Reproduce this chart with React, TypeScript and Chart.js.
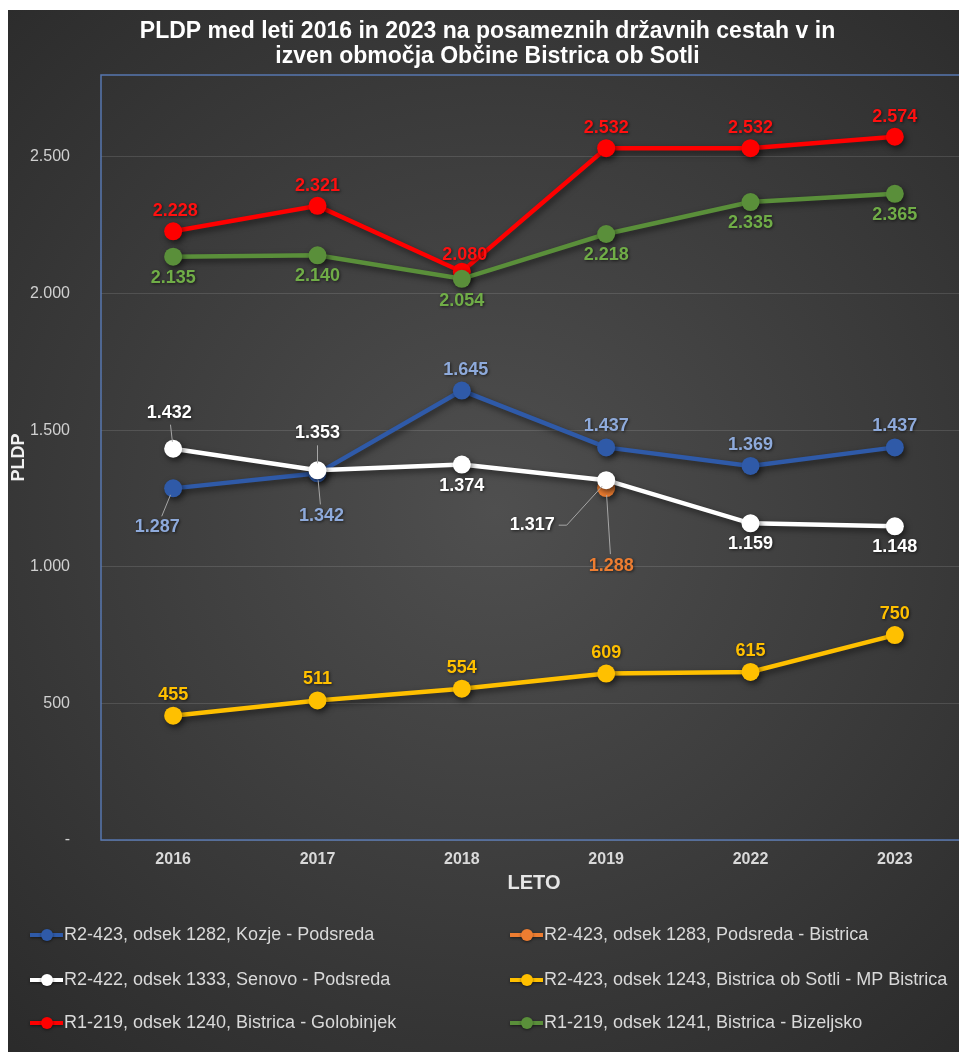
import React, { useEffect, useRef } from "react";
import { Chart, registerables } from "chart.js";

Chart.register(...registerables);

// ---------- DATA ----------
const years = ["2016", "2017", "2018", "2019", "2022", "2023"];
const seriesNames = [
  "R2-423, odsek 1282, Kozje - Podsreda",
  "R2-423, odsek 1283, Podsreda - Bistrica",
  "R2-422, odsek 1333, Senovo - Podsreda",
  "R2-423, odsek 1243, Bistrica ob Sotli - MP Bistrica",
  "R1-219, odsek 1240, Bistrica - Golobinjek",
  "R1-219, odsek 1241, Bistrica - Bizeljsko",
];
const kozjePodsreda = [1287, 1342, 1645, 1437, 1369, 1437];
const podsredaBistrica = [null, null, null, 1288, null, null];
const senovoPodsreda = [1432, 1353, 1374, 1317, 1159, 1148];
const bistricaMpBistrica = [455, 511, 554, 609, 615, 750];
const bistricaGolobinjek = [2228, 2321, 2080, 2532, 2532, 2574];
const bistricaBizeljsko = [2135, 2140, 2054, 2218, 2335, 2365];
const yTickValues = [0, 500, 1000, 1500, 2000, 2500];
const yMax = 2800;

const titleLines = [
  "PLDP med leti 2016 in 2023 na posameznih državnih cestah v in",
  "izven območja Občine Bistrica ob Sotli",
];
const xTitle = "LETO";
const yTitle = "PLDP";

// ---------- STYLE ----------
const FONT = "'Liberation Sans', Arial, sans-serif";
const lineColors = ["#2f5aa8", "#ed7d31", "#ffffff", "#ffc000", "#ff0000", "#5a8f3a"];
const labelColors = ["#8eaadb", "#ed7d31", "#ffffff", "#ffc000", "#ff1010", "#70ad47"];

type LP = { dx: number; dy: number; leader?: boolean; elbow?: boolean };
const A: LP = { dx: 0, dy: -21 };
const B: LP = { dx: 0, dy: 21 };
const labelPlacement: LP[][] = [
  [{ dx: -16, dy: 39, leader: true }, { dx: 4, dy: 43, leader: true }, { dx: 4, dy: -21 }, A, A, A],
  [B, B, B, { dx: 5, dy: 78, leader: true }, B, B],
  [{ dx: -4, dy: -36, leader: true }, { dx: 0, dy: -37, leader: true }, B, { dx: -74, dy: 45, leader: true, elbow: true }, B, B],
  [A, A, A, A, A, A],
  [{ dx: 2, dy: -20 }, { dx: 0, dy: -20 }, { dx: 3, dy: -17 }, { dx: 0, dy: -20 }, { dx: 0, dy: -20 }, { dx: 0, dy: -20 }],
  [B, B, { dx: 0, dy: 22 }, B, B, B],
];

function fmt(v: number): string {
  if (v === 0) return "-";
  if (v >= 1000) {
    const th = Math.floor(v / 1000);
    return th + "." + String(v % 1000).padStart(3, "0");
  }
  return String(v);
}

const bgPlugin = {
  id: "bg",
  beforeDraw(chart: any) {
    const { ctx, width, height } = chart;
    ctx.save();
    const g = ctx.createRadialGradient(width * 0.5, height * 0.48, 0, width * 0.5, height * 0.48, Math.max(width, height) * 0.75);
    g.addColorStop(0, "#4f4f4f");
    g.addColorStop(1, "#282828");
    ctx.fillStyle = g;
    ctx.fillRect(0, 0, width, height);
    ctx.restore();
  },
  beforeDatasetsDraw(chart: any) {
    const { ctx, chartArea: a } = chart;
    ctx.save();
    ctx.strokeStyle = "rgba(90,125,190,0.9)";
    ctx.lineWidth = 1.5;
    ctx.strokeRect(a.left, a.top, a.right - a.left, a.bottom - a.top);
    ctx.restore();
  },
};

const shadowPlugin = {
  id: "shadow",
  beforeDatasetDraw(chart: any) {
    const ctx = chart.ctx;
    ctx.save();
    ctx.shadowColor = "rgba(0,0,0,0.55)";
    ctx.shadowBlur = 6;
    ctx.shadowOffsetX = 2;
    ctx.shadowOffsetY = 3;
  },
  afterDatasetDraw(chart: any) {
    chart.ctx.restore();
  },
};

const labelsPlugin = {
  id: "pointLabels",
  afterDatasetsDraw(chart: any) {
    const ctx = chart.ctx;
    chart.data.datasets.forEach((ds: any, i: number) => {
      const meta = chart.getDatasetMeta(i);
      ds.data.forEach((v: number | null, j: number) => {
        if (v === null || v === undefined) return;
        const el = meta.data[j];
        const p = labelPlacement[i][j];
        const lx = el.x + p.dx;
        const ly = el.y + p.dy;
        ctx.save();
        ctx.font = `bold 18px ${FONT}`;
        const text = fmt(v);
        const tw = ctx.measureText(text).width;
        if (p.leader) {
          ctx.strokeStyle = "#a6a6a6";
          ctx.lineWidth = 1;
          ctx.beginPath();
          if (p.elbow) {
            const ex = lx + tw / 2 + 4;
            ctx.moveTo(ex, ly);
            ctx.lineTo(ex + 8, ly);
            ctx.lineTo(el.x - 4, el.y + 6);
          } else {
            const dx = lx - el.x;
            const dy = ly - el.y;
            const len = Math.sqrt(dx * dx + dy * dy);
            const ux = dx / len;
            const uy = dy / len;
            ctx.moveTo(el.x + ux * 7, el.y + uy * 7);
            ctx.lineTo(lx - ux * 12, ly - uy * 12);
          }
          ctx.stroke();
        }
        ctx.shadowColor = "rgba(0,0,0,0.6)";
        ctx.shadowBlur = 3;
        ctx.shadowOffsetX = 1;
        ctx.shadowOffsetY = 1;
        ctx.fillStyle = labelColors[i];
        ctx.textAlign = "center";
        ctx.textBaseline = "middle";
        ctx.fillText(text, lx, ly);
        ctx.restore();
      });
    });
  },
};

const legendPlugin = {
  id: "customLegend",
  afterDraw(chart: any) {
    const ctx = chart.ctx;
    const cols = [22, 502];
    const rows = [925, 970, 1013];
    chart.data.datasets.forEach((ds: any, i: number) => {
      const x = cols[i % 2];
      const y = rows[Math.floor(i / 2)];
      ctx.save();
      ctx.shadowColor = "rgba(0,0,0,0.5)";
      ctx.shadowBlur = 3;
      ctx.shadowOffsetY = 1;
      ctx.strokeStyle = lineColors[i];
      ctx.lineWidth = 4;
      ctx.beginPath();
      ctx.moveTo(x, y);
      ctx.lineTo(x + 33, y);
      ctx.stroke();
      ctx.fillStyle = lineColors[i];
      ctx.beginPath();
      ctx.arc(x + 17, y, 6, 0, Math.PI * 2);
      ctx.fill();
      ctx.shadowColor = "transparent";
      ctx.fillStyle = "#d9d9d9";
      ctx.font = `18px ${FONT}`;
      ctx.textAlign = "left";
      ctx.textBaseline = "middle";
      ctx.fillText(ds.label, x + 34, y);
      ctx.restore();
    });
  },
};

export default function App() {
  const ref = useRef<HTMLCanvasElement | null>(null);

  useEffect(() => {
    if (!ref.current) return;
    const series = [
      kozjePodsreda,
      podsredaBistrica,
      senovoPodsreda,
      bistricaMpBistrica,
      bistricaGolobinjek,
      bistricaBizeljsko,
    ];
    const chart = new Chart(ref.current, {
      type: "line",
      data: {
        labels: years,
        datasets: series.map((d, i) => ({
          label: seriesNames[i],
          data: d,
          borderColor: lineColors[i],
          backgroundColor: lineColors[i],
          pointBackgroundColor: lineColors[i],
          pointBorderColor: lineColors[i],
          borderWidth: 4.5,
          pointRadius: 9,
          pointBorderWidth: 0,
          tension: 0,
          spanGaps: false,
          order: 10 - i,
        })),
      },
      options: {
        responsive: false,
        animation: false,
        devicePixelRatio: 1,
        layout: { padding: { left: 0, right: 16, top: 0, bottom: 152 } },
        plugins: {
          legend: { display: false },
          tooltip: { enabled: false },
          title: {
            display: true,
            text: titleLines,
            color: "#ffffff",
            font: { family: FONT, size: 23, weight: "bold", lineHeight: 1.1 },
            padding: { top: 9, bottom: 5.4 },
          },
        },
        scales: {
          x: {
            offset: true,
            grid: { display: false, drawTicks: false },
            border: { display: false },
            ticks: { color: "#d9d9d9", font: { family: FONT, size: 16, weight: "bold" }, padding: 10 },
            title: {
              display: true,
              text: xTitle,
              color: "#e6e6e6",
              font: { family: FONT, size: 20, weight: "bold" },
              padding: { top: 0, bottom: 5 },
            },
            afterFit: (s: any) => {
              s.height = 60;
            },
          },
          y: {
            min: 0,
            max: yMax,
            afterBuildTicks: (s: any) => {
              s.ticks = yTickValues.map((v) => ({ value: v }));
            },
            grid: { color: "rgba(255,255,255,0.12)", drawTicks: false, lineWidth: 1 },
            border: { display: false },
            ticks: {
              color: "#d0d0d0",
              font: { family: FONT, size: 16 },
              padding: 31,
              callback: (v: any) => fmt(Number(v)),
            },
            title: {
              display: true,
              text: yTitle,
              color: "#f0f0f0",
              font: { family: FONT, size: 18, weight: "bold" },
              padding: { top: 0, bottom: 0 },
            },
            afterFit: (s: any) => {
              s.width = 93;
            },
          },
        },
      },
      plugins: [bgPlugin, shadowPlugin, labelsPlugin, legendPlugin],
    } as any);
    return () => chart.destroy();
  }, []);

  return (
    <div style={{ position: "fixed", left: 8, top: 10, width: 951, height: 1042, overflow: "hidden" }}>
      <canvas ref={ref} width={975} height={1042} style={{ display: "block", width: 975, height: 1042 }} />
    </div>
  );
}
